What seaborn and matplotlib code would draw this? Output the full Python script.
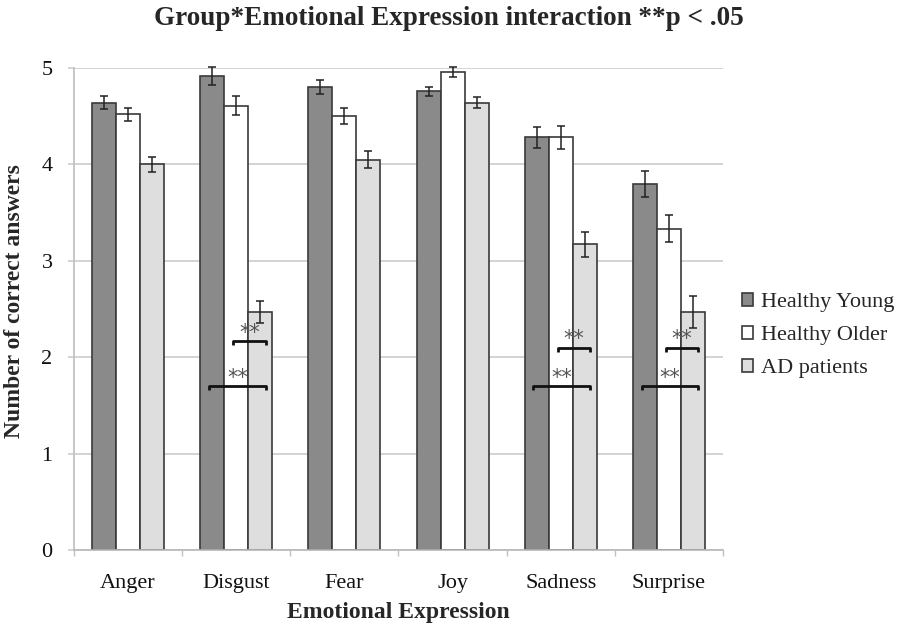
import matplotlib
matplotlib.use("Agg")
import matplotlib.pyplot as plt
import seaborn as sns
import pandas as pd
import numpy as np

categories = ["Anger", "Disgust", "Fear", "Joy", "Sadness", "Surprise"]
groups = ["Healthy Young", "Healthy Older", "AD patients"]
healthy_young = [4.64, 4.92, 4.80, 4.76, 4.28, 3.80]
healthy_older = [4.52, 4.61, 4.50, 4.96, 4.28, 3.33]
ad_patients = [4.00, 2.47, 4.05, 4.64, 3.17, 2.47]
err_young = [0.066, 0.093, 0.071, 0.048, 0.109, 0.133]
err_older = [0.070, 0.100, 0.080, 0.054, 0.118, 0.140]
err_ad = [0.078, 0.115, 0.090, 0.059, 0.130, 0.165]
# significance brackets: (category, from group, to group, level)
brackets = [("Disgust", "Healthy Older", "AD patients", 2.17),
            ("Disgust", "Healthy Young", "AD patients", 1.70),
            ("Sadness", "Healthy Older", "AD patients", 2.10),
            ("Sadness", "Healthy Young", "AD patients", 1.70),
            ("Surprise", "Healthy Older", "AD patients", 2.10),
            ("Surprise", "Healthy Young", "AD patients", 1.70)]

sns.set_theme(style="white")
plt.rcParams["font.family"] = ["Liberation Serif", "DejaVu Serif"]

rows = []
for g, vals, errs in zip(groups, [healthy_young, healthy_older, ad_patients],
                         [err_young, err_older, err_ad]):
    for c, v, e in zip(categories, vals, errs):
        rows.append({"Emotion": c, "Group": g, "Value": v, "Err": e})
df = pd.DataFrame(rows)

fig = plt.figure(figsize=(9.03, 6.25), dpi=100)
ax = fig.add_axes([74 / 903, 1 - 550 / 625, 649 / 903, (550 - 68) / 625])

palette = {"Healthy Young": "#8a8a8a", "Healthy Older": "#ffffff", "AD patients": "#dedede"}
sns.barplot(data=df, x="Emotion", y="Value", hue="Group", order=categories,
            hue_order=groups, palette=palette, errorbar=None, width=0.667,
            edgecolor="#3a3a3a", linewidth=1.2, saturation=1, ax=ax, zorder=2)

centers = {}
for container, g in zip(ax.containers, groups):
    for bar, c in zip(container, categories):
        centers[(c, g)] = (bar.get_x() + bar.get_width() / 2, bar.get_height())

for _, r in df.iterrows():
    x, h = centers[(r["Emotion"], r["Group"])]
    eb = ax.errorbar(x, h, yerr=r["Err"], fmt="none", ecolor="#222222",
                     elinewidth=1.1, capsize=3, capthick=1.1, zorder=3)
    for art in eb.get_children():
        art.set_clip_on(False)

for c, g1, g2, lvl in brackets:
    x1 = centers[(c, g1)][0] - 0.03
    x2 = centers[(c, g2)][0] + 0.05
    ax.plot([x1, x1, x2, x2], [lvl - 0.045, lvl, lvl, lvl - 0.045],
            color="#111111", lw=2.0, zorder=4, solid_capstyle="butt")
    ax.text((x1 + x2) / 2, lvl + 0.085, "**", ha="center", va="center",
            fontsize=15, color="#555555", zorder=4, family="DejaVu Sans")

ax.set_ylim(0, 5)
ax.set_xlim(-0.5, 5.5)
ax.set_yticks([0, 1, 2, 3, 4, 5])
ax.set_xticks(np.arange(-0.5, 6.0, 1.0), minor=True)
ax.yaxis.grid(True, color="#c8c8c8", linewidth=1.1, zorder=0)
ax.set_axisbelow(True)
for s in ["top", "right"]:
    ax.spines[s].set_visible(False)
ax.spines["left"].set_color("#c0c0c0")
ax.spines["bottom"].set_color("#b8b8b8")
ax.spines["bottom"].set_linewidth(1.2)
ax.tick_params(axis="x", which="major", length=0, labelsize=16, colors="#111111", pad=17)
ax.tick_params(axis="x", which="minor", length=4.5, width=1.0, color="#c0c0c0",
               bottom=True, direction="out")
ax.tick_params(axis="y", length=4.5, width=1.1, color="#c8c8c8", direction="out",
               labelsize=16, labelcolor="#111111", pad=11, left=True)

ax.set_xlabel("Emotional Expression", fontsize=17, fontweight="bold", labelpad=7)
ax.set_ylabel("Number of correct answers", fontsize=17, fontweight="bold", labelpad=12)
ax.yaxis.label.set_y(0.517)
fig.text(0.497, 0.971, "Group*Emotional Expression interaction **p < .05",
         ha="center", va="center", fontsize=19.5, fontweight="bold")

leg = ax.legend(loc="upper left", bbox_to_anchor=(742 / 903, 1 - 293 / 625),
                bbox_transform=fig.transFigure, frameon=False, borderpad=0,
                borderaxespad=0, fontsize=16, handlelength=0.5, handleheight=0.5,
                handletextpad=0.35, labelspacing=0.62)

fig.savefig("out.png", dpi=100)
